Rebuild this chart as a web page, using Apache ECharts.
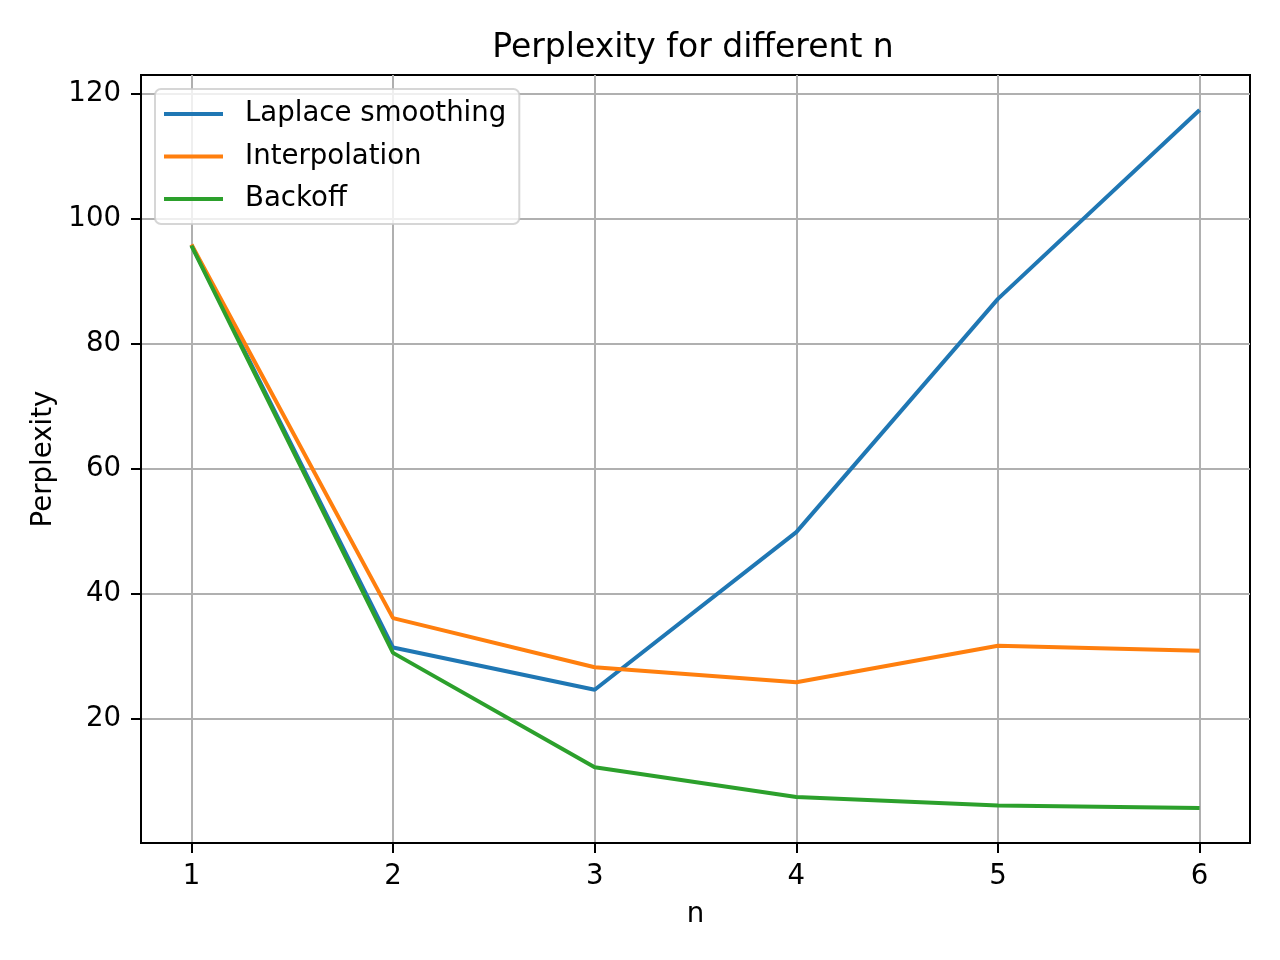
<!DOCTYPE html>
<html>
<head>
    <meta charset="utf-8">
    <title>Perplexity for different n</title>
    <style>
        body { margin: 0; background: #fff; }
    </style>
</head>
<body>
<script src="https://cdn.jsdelivr.net/npm/echarts@6/dist/echarts.min.js" type="text/javascript" charset="utf-8"></script>
<div id="main" style="width: 1280px;height:960px;"></div>
<script type="text/javascript">
    // data
    var nValues = [1, 2, 3, 4, 5, 6];
    var laplace = [95.85, 31.45, 24.7, 49.9, 87.2, 117.4];
    var interpolation = [95.9, 36.15, 28.3, 25.9, 31.75, 30.95];
    var backoff = [95.7, 30.6, 12.3, 7.55, 6.2, 5.8];
    var xTicks = [1, 2, 3, 4, 5, 6];
    var yTicks = [20, 40, 60, 80, 100, 120];

    function pairs(ys) {
        var out = [];
        for (var i = 0; i < nValues.length; i++) {
            out.push([nValues[i], ys[i]]);
        }
        return out;
    }

    var font = 'DejaVu Sans';
    // flat bar as legend icon, like a plain line sample
    var lineIcon = 'path://M0,0L59,0L59,4L0,4Z';
    var myChart = echarts.init(document.getElementById('main'));

    var option = {
        animation: false,
        backgroundColor: '#fff',
        textStyle: { fontFamily: font },
        title: {
            text: 'Perplexity for different n',
            left: 688,
            top: 27,
            textAlign: 'center',
            textStyle: { fontFamily: font, fontSize: 33, fontWeight: 'normal', color: '#000' }
        },
        legend: {
            orient: 'vertical',
            left: 155,
            top: 89,
            padding: [11, 13, 11, 9],
            itemWidth: 59,
            itemHeight: 28,
            itemGap: 14.5,
            icon: lineIcon,
            backgroundColor: 'rgba(255,255,255,0.8)',
            borderColor: 'rgba(204,204,204,0.8)',
            borderWidth: 2,
            borderRadius: 6,
            textStyle: { fontFamily: font, fontSize: 27.6, color: '#000', padding: [0, 0, 0, 17] },
            data: ['Laplace smoothing', 'Interpolation', 'Backoff']
        },
        grid: {
            left: 141,
            right: 30,
            top: 75,
            bottom: 117,
            show: true,
            borderColor: '#000',
            borderWidth: 2
        },
        xAxis: {
            type: 'value',
            min: 0.75,
            max: 6.25,
            name: 'n',
            nameLocation: 'middle',
            nameGap: 58,
            nameTextStyle: { fontFamily: font, fontSize: 27.6, color: '#000' },
            axisLine: { show: true, lineStyle: { color: '#000', width: 2 } },
            axisTick: { show: true, length: 10, lineStyle: { color: '#000', width: 2 }, customValues: xTicks },
            axisLabel: { fontFamily: font, fontSize: 27.6, color: '#000', margin: 20, customValues: xTicks },
            splitLine: { show: true, lineStyle: { color: '#b0b0b0', width: 2 } }
        },
        yAxis: {
            type: 'value',
            min: 0.2,
            max: 123,
            name: 'Perplexity',
            nameLocation: 'middle',
            nameGap: 83,
            nameTextStyle: { fontFamily: font, fontSize: 27.6, color: '#000' },
            axisLine: { show: true, lineStyle: { color: '#000', width: 2 } },
            axisTick: { show: true, length: 10, lineStyle: { color: '#000', width: 2 }, customValues: yTicks },
            axisLabel: { fontFamily: font, fontSize: 27.6, color: '#000', margin: 20, customValues: yTicks },
            splitLine: { show: true, lineStyle: { color: '#b0b0b0', width: 2 } }
        },
        series: [
            {
                name: 'Laplace smoothing',
                type: 'line',
                data: pairs(laplace),
                symbol: 'none',
                color: '#1f77b4',
                lineStyle: { width: 4 }
            },
            {
                name: 'Interpolation',
                type: 'line',
                data: pairs(interpolation),
                symbol: 'none',
                color: '#ff7f0e',
                lineStyle: { width: 4 }
            },
            {
                name: 'Backoff',
                type: 'line',
                data: pairs(backoff),
                symbol: 'none',
                color: '#2ca02c',
                lineStyle: { width: 4 }
            }
        ]
    };

    myChart.setOption(option);
</script>
</body>
</html>
